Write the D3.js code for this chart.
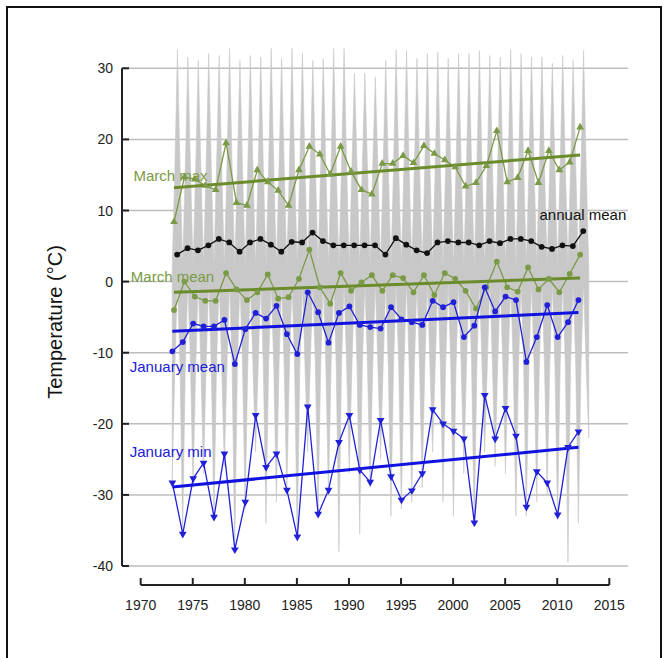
<!DOCTYPE html>
<html>
<head>
<meta charset="utf-8">
<script src="https://cdn.jsdelivr.net/npm/d3@7"></script>
<style>
  body { margin: 0; background: #fff; }
  svg { display: block; }
  text { font-family: "Liberation Sans", Arial, sans-serif; }
</style>
</head>
<body>
<svg id="chart"></svg>
<script>
// Yearly values, 1973 - 2012
var years = d3.range(1973, 2013);

var janMin = [-28.3, -35.5, -27.7, -25.5, -33.1, -24.2, -37.7, -31.0, -18.8, -26.1,
              -24.2, -29.3, -35.9, -17.6, -32.7, -29.3, -22.6, -18.8, -26.5, -28.2,
              -19.5, -27.4, -30.7, -29.4, -27.0, -18.0, -20.0, -21.0, -22.1, -33.9,
              -16.0, -22.1, -17.8, -21.7, -31.7, -26.7, -28.3, -32.8, -23.3, -21.1];
var janMean = [-9.8, -8.5, -5.9, -6.3, -6.3, -5.4, -11.6, -6.7, -4.4, -5.2,
               -3.4, -7.4, -10.2, -1.5, -4.3, -8.6, -4.4, -3.5, -6.1, -6.4,
               -6.6, -3.6, -5.3, -5.7, -6.1, -2.7, -3.6, -2.9, -7.8, -6.2,
               -0.8, -4.2, -2.1, -2.6, -11.3, -7.8, -3.3, -7.8, -5.7, -2.6];
var marMean = [-4.0, 0.0, -2.1, -2.7, -2.7, 1.2, -1.1, -2.6, -1.5, 1.0,
               -2.4, -2.2, 0.4, 4.5, -0.8, -3.1, 1.2, -1.3, -0.1, 0.9,
               -1.3, 0.9, 0.5, -1.5, 0.9, -1.9, 1.2, 0.4, -1.3, -3.8,
               -0.8, 2.8, -0.8, -1.4, 2.0, -1.1, 0.4, -1.5, 1.1, 3.8];
var marMax = [8.4, 14.7, 14.4, 13.5, 12.9, 19.5, 11.1, 10.7, 15.7, 14.0,
              12.8, 10.7, 15.7, 19.0, 17.9, 15.1, 19.0, 15.5, 12.9, 12.3,
              16.6, 16.6, 17.7, 16.7, 19.1, 18.0, 17.1, 16.1, 13.4, 13.9,
              16.3, 21.2, 14.0, 14.6, 18.4, 13.9, 18.4, 15.7, 16.8, 21.7];
var annualMean = [3.8, 4.7, 4.4, 5.1, 6.0, 5.5, 4.2, 5.5, 6.0, 5.2,
                  4.2, 5.6, 5.5, 6.9, 5.7, 5.1, 5.1, 5.1, 5.1, 5.1,
                  3.8, 6.1, 5.2, 4.4, 4.0, 5.5, 5.7, 5.5, 5.5, 5.1,
                  5.7, 5.4, 6.0, 6.0, 5.7, 4.9, 4.6, 5.1, 5.0, 7.1];

// trend lines: value at first and last year
var janMinTrend = [-28.9, -23.3];
var janMeanTrend = [-7.0, -4.35];
var marMeanTrend = [-1.5, 0.5];
var marMaxTrend = [13.2, 17.8];

// daily record in the background: summer peak of each year (1973-2012)
var summerPeaks = [32.6, 31.6, 31.1, 32.1, 31.8, 32.8, 31.1, 31.8, 31.6, 32.8,
                   31.4, 32.8, 32.1, 31.1, 31.4, 32.8, 32.8, 29.3, 29.3, 28.8,
                   31.1, 32.6, 32.5, 31.4, 32.1, 32.3, 31.4, 32.1, 32.1, 32.5,
                   31.8, 31.6, 32.6, 32.1, 31.6, 31.6, 30.7, 31.8, 31.1, 32.5];
// winter trough at the start of each year (1973-2013)
var winterTroughs = [-28, -35.8, -29, -27, -33.5, -26, -38, -32, -24, -34,
                     -31, -30, -36.5, -24, -33, -30, -38, -27, -35.5, -29,
                     -25, -33, -32, -31, -29, -24, -31, -33, -27, -34.5,
                     -24, -26, -27, -33, -33, -31, -30, -33.5, -39.5, -34, -22];
// typical envelope levels of the daily record between the extremes
var winterHigh = 2;    // daily max in mid winter
var seasonHigh = 16;   // daily max in spring / autumn
var seasonLow = -12;   // daily min in spring / autumn
var summerLow = 0;     // daily min in mid summer

var yTicks = [30, 20, 10, 0, -10, -20, -30, -40];
var xTicks = [1970, 1975, 1980, 1985, 1990, 1995, 2000, 2005, 2010, 2015];

var width = 668;
var height = 658;

var svg = d3.select('#chart')
  .attr('width', width)
  .attr('height', height);

// outer frame
svg.append('rect')
  .attr('x', 7).attr('y', 7)
  .attr('width', 654).attr('height', 660)
  .attr('fill', 'none')
  .attr('stroke', '#111')
  .attr('stroke-width', 2);

var x = d3.scaleLinear().domain([1970, 2015]).range([140.7, 609.3]);
var y = d3.scaleLinear().domain([-40, 30]).range([566, 68.3]);
var axisX = 122;
var gridRight = 628;

// gridlines
svg.append('g')
  .selectAll('line')
  .data(yTicks)
  .enter().append('line')
    .attr('x1', axisX)
    .attr('x2', gridRight)
    .attr('y1', function (d) { return y(d); })
    .attr('y2', function (d) { return y(d); })
    .attr('stroke', '#bdbdbd')
    .attr('stroke-width', 1.5);

// gray daily record, drawn as an envelope through the seasonal levels
var envelope = [];
winterTroughs.forEach(function (t, i) {
  var yr = 1973 + i;
  envelope.push({ t: yr + 0.03, hi: winterHigh, lo: t });
  if (i < summerPeaks.length) {
    envelope.push({ t: yr + 0.28, hi: seasonHigh, lo: seasonLow });
    envelope.push({ t: yr + 0.53, hi: summerPeaks[i], lo: summerLow });
    envelope.push({ t: yr + 0.78, hi: seasonHigh, lo: seasonLow });
  }
});

var area = d3.area()
  .x(function (d) { return x(d.t); })
  .y0(function (d) { return y(d.lo); })
  .y1(function (d) { return y(d.hi); });

svg.append('path')
  .datum(envelope)
  .attr('d', area)
  .attr('fill', '#c8c8c8')
  .attr('stroke', '#c8c8c8')
  .attr('stroke-width', 0.6);

// y axis: line, inward ticks, labels
var yAxis = svg.append('g');
yAxis.append('line')
  .attr('x1', axisX).attr('x2', axisX)
  .attr('y1', y(30)).attr('y2', y(-40))
  .attr('stroke', '#222').attr('stroke-width', 2);
yAxis.selectAll('.tick')
  .data(yTicks)
  .enter().append('line')
    .attr('x1', axisX).attr('x2', axisX + 7)
    .attr('y1', function (d) { return y(d); })
    .attr('y2', function (d) { return y(d); })
    .attr('stroke', '#222').attr('stroke-width', 2);
yAxis.selectAll('text')
  .data(yTicks)
  .enter().append('text')
    .attr('x', 113)
    .attr('y', function (d) { return y(d) + 5; })
    .attr('text-anchor', 'end')
    .attr('font-size', 14)
    .attr('fill', '#222')
    .text(function (d) { return d; });

// x axis: line below plot, upward ticks
var axisY = 585;
var xAxis = svg.append('g');
xAxis.append('line')
  .attr('x1', x(1970)).attr('x2', x(2015))
  .attr('y1', axisY).attr('y2', axisY)
  .attr('stroke', '#222').attr('stroke-width', 2);
xAxis.selectAll('.tick')
  .data(xTicks)
  .enter().append('line')
    .attr('x1', function (d) { return x(d); })
    .attr('x2', function (d) { return x(d); })
    .attr('y1', axisY).attr('y2', axisY - 7)
    .attr('stroke', '#222').attr('stroke-width', 2);
xAxis.selectAll('text')
  .data(xTicks)
  .enter().append('text')
    .attr('x', function (d) { return x(d); })
    .attr('y', axisY + 25)
    .attr('text-anchor', 'middle')
    .attr('font-size', 14)
    .attr('fill', '#222')
    .text(function (d) { return d; });

svg.append('text')
  .attr('transform', 'translate(62,322) rotate(-90)')
  .attr('text-anchor', 'middle')
  .attr('font-size', 20)
  .attr('fill', '#111')
  .text('Temperature (\u00B0C)');

// data series
var green = '#7b9a45';
var greenTrend = '#6a8c2b';
var blue = '#2020d8';
var blueTrend = '#1212e0';

var series = [
  { values: marMax, trend: marMaxTrend, offset: 0.2, color: green, trendColor: greenTrend, marker: 'up' },
  { values: annualMean, trend: null, offset: 0.5, color: '#111', trendColor: null, marker: 'circle' },
  { values: marMean, trend: marMeanTrend, offset: 0.2, color: green, trendColor: greenTrend, marker: 'circle' },
  { values: janMean, trend: janMeanTrend, offset: 0.04, color: blue, trendColor: blueTrend, marker: 'circle' },
  { values: janMin, trend: janMinTrend, offset: 0.04, color: blue, trendColor: blueTrend, marker: 'down' }
];

var line = d3.line()
  .x(function (d) { return x(d.t); })
  .y(function (d) { return y(d.v); });

var triangle = d3.symbol().type(d3.symbolTriangle).size(26);
var circle = d3.symbol().type(d3.symbolCircle).size(26);

series.forEach(function (s) {
  var pts = s.values.map(function (v, i) { return { t: years[i] + s.offset, v: v }; });

  svg.append('path')
    .datum(pts)
    .attr('d', line)
    .attr('fill', 'none')
    .attr('stroke', s.color)
    .attr('stroke-width', 1.3);

  if (s.trend) {
    var first = years[0] + s.offset;
    var last = years[years.length - 1] + s.offset;
    svg.append('path')
      .datum([{ t: first, v: s.trend[0] }, { t: last, v: s.trend[1] }])
      .attr('d', line)
      .attr('fill', 'none')
      .attr('stroke', s.trendColor)
      .attr('stroke-width', 3);
  }

  svg.append('g')
    .selectAll('path')
    .data(pts)
    .enter().append('path')
      .attr('d', s.marker === 'circle' ? circle : triangle)
      .attr('transform', function (d) {
        var tr = 'translate(' + x(d.t) + ',' + y(d.v) + ')';
        if (s.marker === 'down') { tr += ' rotate(180)'; }
        return tr;
      })
      .attr('fill', s.color);
});

// series labels, anchored in data units
var labels = [
  { text: 'March max', t: 1969.3, v: 14.1, color: green },
  { text: 'annual mean', t: 2008.3, v: 8.7, color: '#111' },
  { text: 'March mean', t: 1969.05, v: -0.05, color: green },
  { text: 'January mean', t: 1968.95, v: -12.7, color: blue },
  { text: 'January min', t: 1968.95, v: -24.6, color: blue }
];

svg.append('g')
  .selectAll('text')
  .data(labels)
  .enter().append('text')
    .attr('x', function (d) { return x(d.t); })
    .attr('y', function (d) { return y(d.v); })
    .attr('font-size', 15)
    .attr('fill', function (d) { return d.color; })
    .text(function (d) { return d.text; });
</script>
</body>
</html>
